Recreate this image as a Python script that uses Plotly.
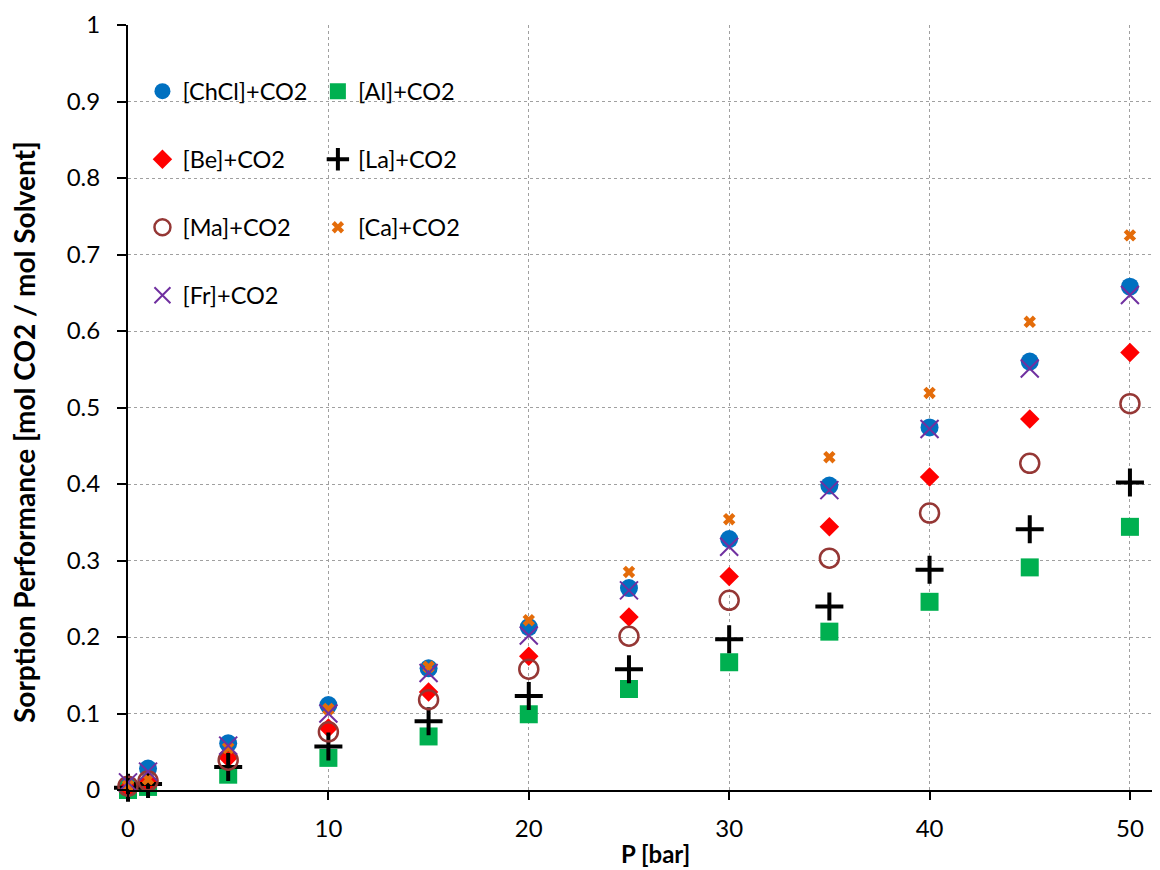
import plotly.graph_objects as go

P = [0, 1, 5, 10, 15, 20, 25, 30, 35, 40, 45, 50]

chcl = [0.005, 0.028, 0.061, 0.111, 0.159, 0.213, 0.264, 0.328, 0.398, 0.474, 0.560, 0.658]
al   = [0.000, 0.004, 0.020, 0.042, 0.070, 0.099, 0.132, 0.167, 0.207, 0.246, 0.291, 0.344]
be   = [0.003, 0.010, 0.042, 0.081, 0.128, 0.175, 0.226, 0.279, 0.344, 0.409, 0.485, 0.572]
la   = [0.003, 0.008, 0.030, 0.057, 0.090, 0.123, 0.158, 0.197, 0.240, 0.288, 0.341, 0.402]
ma   = [0.005, 0.012, 0.039, 0.076, 0.118, 0.158, 0.201, 0.248, 0.303, 0.362, 0.427, 0.505]
ca   = [0.006, 0.014, 0.055, 0.106, 0.161, 0.222, 0.285, 0.354, 0.435, 0.519, 0.612, 0.725]
fr   = [0.010, 0.024, 0.058, 0.100, 0.153, 0.202, 0.261, 0.318, 0.392, 0.472, 0.551, 0.647]

names = ["[ChCl]+CO2", "[Al]+CO2", "[Be]+CO2", "[La]+CO2", "[Ma]+CO2", "[Ca]+CO2", "[Fr]+CO2"]
x_title = "P [bar]"
y_title = "Sorption Performance [mol CO2 / mol Solvent]"

FONT = "Lato"

fig = go.Figure()

def add(y, name, marker, legend):
    fig.add_trace(go.Scatter(x=P, y=y, name=name, mode="markers", marker=marker,
                             cliponaxis=False, legend=legend, legendgroup=name))

add(chcl, names[0], dict(symbol="circle", size=18, color="#0070C0"), "legend")
add(al, names[1], dict(symbol="square", size=18, color="#00B050"), "legend2")
add(be, names[2], dict(symbol="diamond", size=15, color="#FF0000"), "legend")
add(la, names[3], dict(symbol="cross-thin-open", size=20, color="black", line=dict(color="black", width=4)), "legend2")
add(ma, names[4], dict(symbol="circle-open", size=19, color="#953735", line=dict(color="#953735", width=2.5)), "legend")
add(ca, names[5], dict(symbol="x", size=11, color="#E46C0A", line=dict(width=0)), "legend2")
add(fr, names[6], dict(symbol="x-thin-open", size=18, color="#7030A0", line=dict(color="#7030A0", width=2)), "legend")

legend_common = dict(font=dict(family=FONT, size=23.5, color="black"), bgcolor="rgba(0,0,0,0)",
                     xanchor="left", yanchor="top", tracegroupgap=34.5, itemsizing="trace")

fig.update_layout(
    width=1152, height=862,
    margin=dict(l=120, r=0, t=17, b=80),
    paper_bgcolor="white", plot_bgcolor="white",
    font=dict(family=FONT, size=24, color="black"),
    showlegend=True,
    legend=dict(x=0.014, y=0.942, **legend_common),
    legend2=dict(x=0.184, y=0.942, **legend_common),
    xaxis=dict(range=[0, 51.5], tickvals=[0, 10, 20, 30, 40, 50], showgrid=True,
               gridcolor="#A0A0A0", griddash="dot", gridwidth=1,
               showline=True, linecolor="black", linewidth=2,
               ticks="outside", ticklen=8, tickcolor="black", tickwidth=1.5,
               ticklabelstandoff=8, zeroline=False,
               tickfont=dict(family=FONT, size=24)),
    yaxis=dict(range=[0, 1], dtick=0.1, showgrid=True,
               gridcolor="#A0A0A0", griddash="dot", gridwidth=1,
               showline=True, linecolor="black", linewidth=2,
               ticks="outside", ticklen=9, tickcolor="black", tickwidth=1.5,
               ticklabelstandoff=12, zeroline=False,
               tickfont=dict(family=FONT, size=24)),
    annotations=[
        dict(text="<b>" + x_title + "</b>", xref="paper", yref="paper",
             x=(647 - 120) / 1032, y=-(845 - 782) / 765, xanchor="center", yanchor="middle",
             showarrow=False, font=dict(family=FONT, size=24, color="black")),
        dict(text="<b>" + y_title + "</b>", xref="paper", yref="paper", textangle=-90,
             x=(16 - 120) / 1032, y=(782 - 424) / 765, xanchor="center", yanchor="middle",
             showarrow=False, font=dict(family=FONT, size=28, color="black")),
    ],
)

fig.write_html("out.html")
